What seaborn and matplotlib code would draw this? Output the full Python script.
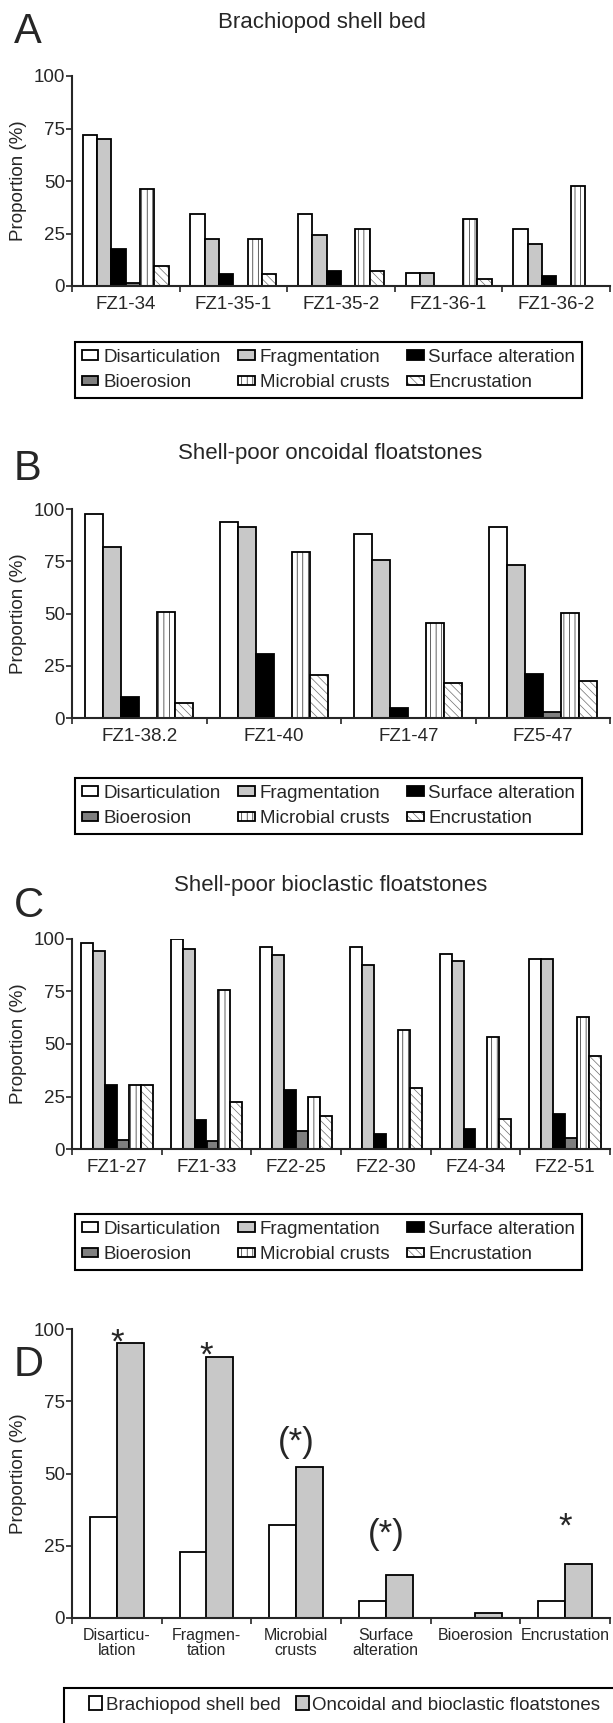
## Taphonomic features of brachiopod shell bed vs. shell-poor floatstones (panels A-D)

import numpy as np
import pandas as pd
import matplotlib
matplotlib.use('Agg')
import matplotlib.pyplot as plt
from matplotlib.patches import Patch, Rectangle
import seaborn as sns

#Taphonomic features (hue levels)
types = ['Disarticulation', 'Fragmentation', 'Surface alteration',
         'Bioerosion', 'Microbial crusts', 'Encrustation']

#A. Brachiopod shell bed
samples_a = ['FZ1-34', 'FZ1-35-1', 'FZ1-35-2', 'FZ1-36-1', 'FZ1-36-2']
disart_a = [72, 34.5, 34.5, 6.2, 27.3]
frag_a = [70, 22.6, 24.2, 6.2, 20.2]
surf_a = [17.8, 5.6, 7.3, 0, 4.9]
bio_a = [1.5, 0, 0, 0, 0]
micro_a = [46, 22.6, 27.3, 32.1, 47.5]
encr_a = [9.5, 5.6, 7.2, 3.2, 0]

#B. Shell-poor oncoidal floatstones
samples_b = ['FZ1-38.2', 'FZ1-40', 'FZ1-47', 'FZ5-47']
disart_b = [97.6, 93.8, 88, 91.2]
frag_b = [81.7, 91.4, 75.8, 73.4]
surf_b = [9.9, 30.6, 4.8, 21]
bio_b = [0, 0, 0, 2.9]
micro_b = [50.9, 79.3, 45.3, 50.2]
encr_b = [7.2, 20.7, 16.7, 17.5]

#C. Shell-poor bioclastic floatstones
samples_c = ['FZ1-27', 'FZ1-33', 'FZ2-25', 'FZ2-30', 'FZ4-34', 'FZ2-51']
disart_c = [98.1, 100, 96.2, 96.2, 92.7, 90.3]
frag_c = [94.3, 95, 92.2, 87.4, 89.5, 90.3]
surf_c = [30.6, 13.7, 28.2, 7.3, 9.6, 16.9]
bio_c = [4.5, 3.7, 8.4, 0, 0, 5.3]
micro_c = [30.4, 75.8, 25, 56.7, 53.2, 62.7]
encr_c = [30.4, 22.5, 15.9, 29, 14.3, 44.3]

#D. Facies comparison
features_d = ['Disarticu-\nlation', 'Fragmen-\ntation', 'Microbial\ncrusts',
              'Surface\nalteration', 'Bioerosion', 'Encrustation']
groups_d = ['Brachiopod shell bed', 'Oncoidal and bioclastic floatstones']
brach_d = [34.9, 23, 32.3, 5.8, 0, 5.8]
onc_d = [95, 90.3, 52.4, 14.8, 1.7, 18.8]
signif_d = ['*', '*', '(*)', '(*)', '', '*']
signif_y = [92, 87.5, 57.5, 25.5, 0, 28]

#Styles
palette = {'Disarticulation': 'white', 'Fragmentation': '#c8c8c8',
           'Surface alteration': 'black', 'Bioerosion': '#7f7f7f',
           'Microbial crusts': 'white', 'Encrustation': 'white'}
hatches = ['', '', '', '', '|||', '\\\\\\\\']
hatch_colors = ['black', 'black', 'black', 'black', '#222222', '#6e6e6e']

sns.set_style('ticks')
plt.rcParams['font.family'] = ['Liberation Sans', 'DejaVu Sans']
plt.rcParams['hatch.linewidth'] = 0.5

W, H = 613, 1723
def fx(x):
    return x / W
def fy(y):
    return 1 - y / H
def rect(x0, y0, x1, y1):
    return [x0 / W, 1 - y1 / H, (x1 - x0) / W, (y1 - y0) / H]

FS = 13.5

fig = plt.figure(figsize=(W / 100, H / 100), dpi=100)


def set_hatch(p, h, c):
    p.set_hatch(h)
    if hasattr(p, 'set_hatchcolor'):
        p.set_hatchcolor(c)
    else:
        p._hatch_color = matplotlib.colors.to_rgba(c)


def style_axis(ax, labels, label_fs):
    n = len(labels)
    ax.set_xlim(-0.5, n - 0.5)
    ax.set_ylim(0, 100)
    ax.set_xticks(np.arange(n + 1) - 0.5, labels=[''] * (n + 1))
    ax.set_xticks(np.arange(n), labels=labels, minor=True)
    ax.tick_params(axis='x', which='major', length=4, width=1.2, direction='out')
    ax.tick_params(axis='x', which='minor', length=0, pad=7, labelsize=label_fs)
    ax.set_yticks([0, 25, 50, 75, 100])
    ax.tick_params(axis='y', length=4, width=1.2, pad=1, labelsize=FS)
    ax.set_xlabel('')
    ax.set_ylabel('Proportion (%)', fontsize=FS)
    ax.yaxis.set_label_coords(-0.084, 0.5)
    sns.despine(ax=ax)
    for s in ['left', 'bottom']:
        ax.spines[s].set_linewidth(1.5)


def grouped(ax, samples, series):
    wide = pd.DataFrame(dict(zip(types, series)), index=samples)
    long = wide.reset_index(names='sample').melt(id_vars='sample', var_name='type', value_name='value')
    sns.barplot(data=long, x='sample', y='value', hue='type', order=samples, hue_order=types,
                palette=palette, saturation=1, edgecolor='black', linewidth=1.3,
                width=0.8, errorbar=None, legend=False, ax=ax)
    for cont, h, c in zip(ax.containers, hatches, hatch_colors):
        for p in cont:
            set_hatch(p, h, c)
    style_axis(ax, samples, FS)


def type_legend(top):
    order = [0, 3, 1, 4, 2, 5]  # ncol fills column-wise
    handles = []
    for i in order:
        hp = Patch(facecolor=palette[types[i]], edgecolor='black', linewidth=1.3)
        set_hatch(hp, hatches[i], hatch_colors[i])
        handles.append(hp)
    leg = fig.legend(handles, [types[i] for i in order], ncol=3, loc='upper left',
                     bbox_to_anchor=(fx(75), fy(top), (582 - 75) / W, 0), mode='expand',
                     bbox_transform=fig.transFigure, borderaxespad=0, fancybox=False,
                     edgecolor='black', framealpha=1, fontsize=FS, handlelength=0.9,
                     handleheight=0.4, handletextpad=0.25, columnspacing=0.3,
                     labelspacing=0.45, borderpad=0.35)
    leg.get_frame().set_linewidth(1.5)


panels = [
    ('A', 'Brachiopod shell bed', samples_a,
     [disart_a, frag_a, surf_a, bio_a, micro_a, encr_a], (76, 286), 43, 28, 322, 342),
    ('B', 'Shell-poor oncoidal floatstones', samples_b,
     [disart_b, frag_b, surf_b, bio_b, micro_b, encr_b], (509, 718), 480, 459, 330, 778),
    ('C', 'Shell-poor bioclastic floatstones', samples_c,
     [disart_c, frag_c, surf_c, bio_c, micro_c, encr_c], (939, 1149), 917, 891, 331, 1214),
]

for letter, title, samples, series, (y0, y1), ly, ty, tx, legtop in panels:
    ax = fig.add_axes(rect(72, y0, 610, y1))
    grouped(ax, samples, series)
    fig.text(fx(14), fy(ly), letter, fontsize=30, ha='left', va='baseline')
    fig.text(fx(tx), fy(ty), title, fontsize=16, ha='center', va='baseline')
    type_legend(legtop)


# D. Comparison of both facies
axd = fig.add_axes(rect(72, 1329, 610, 1618))
dfd = pd.DataFrame({'feature': features_d * 2,
                    'group': [groups_d[0]] * len(features_d) + [groups_d[1]] * len(features_d),
                    'value': brach_d + onc_d})
pal_d = {groups_d[0]: 'white', groups_d[1]: '#c8c8c8'}
sns.barplot(data=dfd, x='feature', y='value', hue='group', order=features_d, hue_order=groups_d,
            palette=pal_d, saturation=1, edgecolor='black', linewidth=1.3, width=0.6,
            errorbar=None, legend=False, ax=axd)
style_axis(axd, features_d, 11.5)
for lab in axd.get_xticklabels(minor=True):
    lab.set_linespacing(1.0)
for i, s in enumerate(signif_d):
    if s:
        axd.text(i, signif_y[i], s, fontsize=25, ha='center', va='baseline')
fig.text(fx(14), fy(1376), 'D', fontsize=30, ha='left', va='baseline')

hd = [Patch(facecolor=pal_d[g], edgecolor='black', linewidth=1.3) for g in groups_d]
fig.legend(hd, groups_d, ncol=2, loc='center left', bbox_to_anchor=(fx(89), fy(1705)),
           bbox_transform=fig.transFigure, frameon=False, borderpad=0, borderaxespad=0,
           fontsize=FS, handlelength=0.7, handleheight=0.7, handletextpad=0.2,
           columnspacing=0.8)
fig.add_artist(Rectangle((fx(64), fy(1728)), (618 - 64) / W, (1728 - 1688) / H,
                         transform=fig.transFigure, fill=False, lw=1.5, ec='black'))

plt.savefig('out.png', dpi=100)
